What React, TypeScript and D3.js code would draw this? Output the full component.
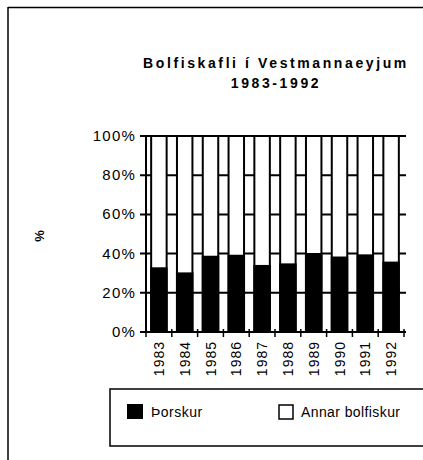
import React from "react";
import * as d3 from "d3";

const years = ["1983", "1984", "1985", "1986", "1987", "1988", "1989", "1990", "1991", "1992"];
const thorskur = [32.5, 29.9, 38.4, 38.9, 33.7, 34.5, 39.8, 38.0, 39.1, 35.4];
const yTicks = [0, 20, 40, 60, 80, 100];
const titleLines = ["Bolfiskafli í Vestmannaeyjum", "1983-1992"];
const legendLabels = ["Þorskur", "Annar bolfiskur"];

const W = 423;
const H = 460;
const FONT = "'Liberation Sans', Arial, Helvetica, sans-serif";

export default function App() {
  const x = d3.scaleBand<string>().domain(years).range([146, 404]).paddingInner(0.4).paddingOuter(0.2);
  const y = d3.scaleLinear().domain([0, 100]).range([332, 136]);
  const step = x.step();
  const bw = x.bandwidth();
  const gap = step - bw;
  const boundaries = [146, ...years.map((yr) => (x(yr) as number) + bw + gap / 2)];
  boundaries[boundaries.length - 1] = 404;

  return (
    <svg width={W} height={H} style={{ position: "absolute", left: 0, top: 0, background: "#fff" }} fontFamily={FONT}>
      <rect x={0} y={0} width={W} height={H} fill="#fff" />
      {/* outer frame */}
      <line x1={8} y1={7.5} x2={W} y2={7.5} stroke="#000" strokeWidth={1.5} />
      <line x1={8} y1={7} x2={8} y2={H} stroke="#000" strokeWidth={1.5} />

      {/* title */}
      {titleLines.map((t, i) => (
        <text key={i} x={276} y={68 + i * 20} textAnchor="middle" fontSize={14} fontWeight="bold" letterSpacing={2.6} fill="#000">
          {t}
        </text>
      ))}

      {/* y axis label */}
      <text transform={`translate(44,236) rotate(-90)`} textAnchor="middle" fontSize={13} fontWeight="bold" fill="#000">
        %
      </text>

      {/* gridlines */}
      {yTicks.map((t) => (
        <line key={t} x1={140} x2={406} y1={y(t)} y2={y(t)} stroke="#000" strokeWidth={2} />
      ))}

      {/* bars */}
      {years.map((yr, i) => (
        <g key={yr}>
          <rect x={x(yr)} y={y(100)} width={bw} height={y(0) - y(100)} fill="#fff" stroke="#000" strokeWidth={2} />
          <rect x={x(yr)} y={y(thorskur[i])} width={bw} height={y(0) - y(thorskur[i])} fill="#000" stroke="#000" strokeWidth={2} />
        </g>
      ))}

      {/* y axis line */}
      <line x1={146} x2={146} y1={y(100)} y2={y(0) + 1} stroke="#000" strokeWidth={2} />

      {/* y tick labels */}
      {yTicks.map((t) => (
        <text key={t} x={136} y={y(t) + 5} textAnchor="end" fontSize={15} letterSpacing={1.2} fill="#000">
          {t}%
        </text>
      ))}

      {/* x ticks */}
      {boundaries.map((b, i) => (
        <line key={i} x1={b} x2={b} y1={y(0) - 3} y2={y(0) + 5} stroke="#000" strokeWidth={1.5} />
      ))}

      {/* x labels */}
      {years.map((yr) => (
        <text
          key={yr}
          transform={`translate(${(x(yr) as number) + bw / 2 + 5},341) rotate(-90)`}
          textAnchor="end"
          fontSize={14}
          letterSpacing={1}
          fill="#000"
        >
          {yr}
        </text>
      ))}

      {/* legend */}
      <rect x={110} y={389} width={330} height={57} fill="#fff" stroke="#000" strokeWidth={1.5} />
      <rect x={127} y={404} width={16} height={15} fill="#000" />
      <text x={151} y={417} fontSize={14} letterSpacing={0.5} fill="#000">
        {legendLabels[0]}
      </text>
      <rect x={279} y={405} width={14} height={14} fill="#fff" stroke="#000" strokeWidth={1.5} />
      <text x={301} y={417} fontSize={14} letterSpacing={0.4} fill="#000">
        {legendLabels[1]}
      </text>
    </svg>
  );
}
